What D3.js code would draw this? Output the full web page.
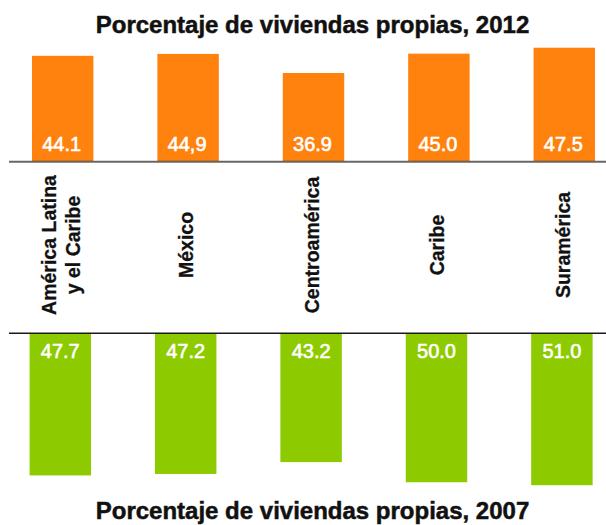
<!DOCTYPE html>
<html lang="es">
<head>
<meta charset="UTF-8">
<title>Porcentaje de viviendas propias</title>
<script src="https://cdn.jsdelivr.net/npm/d3@7"></script>
<style>
  body { margin: 0; background: #fff; }
  text { font-family: "Liberation Sans", Arial, Helvetica, sans-serif; }
</style>
</head>
<body>
<svg width="606" height="525"></svg>
<script>
// data
const regions = ["América Latina|y el Caribe", "México", "Centroamérica", "Caribe", "Suramérica"];
const values2012 = [44.1, 44.9, 36.9, 45.0, 47.5];
const labels2012 = ["44.1", "44,9", "36.9", "45.0", "47.5"];
const values2007 = [47.7, 47.2, 43.2, 50.0, 51.0];
const labels2007 = ["47.7", "47.2", "43.2", "50.0", "51.0"];

const svg = d3.select("svg");

const x = d3.scaleBand()
    .domain(regions)
    .range([0, 627])
    .paddingInner(0.51)
    .paddingOuter(0.255);

const topBase = 161;
const botBase = 334;
const yTop = d3.scaleLinear().domain([0, 100]).range([topBase, topBase - 238.5]);
const yBot = d3.scaleLinear().domain([0, 100]).range([botBase, botBase + 296.5]);

// titles
[["Porcentaje de viviendas propias, 2012", 33], ["Porcentaje de viviendas propias, 2007", 518.5]]
  .forEach(([txt, yy]) => {
    svg.append("text")
        .attr("x", 312.5).attr("y", yy)
        .attr("text-anchor", "middle")
        .attr("font-size", 24).attr("font-weight", "bold")
        .attr("fill", "#111").attr("stroke", "#111").attr("stroke-width", 0.5)
        .text(txt);
  });

// 2012 bars (up)
const gTop = svg.append("g");
gTop.selectAll("rect")
    .data(values2012)
    .join("rect")
    .attr("x", (d, i) => x(regions[i]))
    .attr("y", d => yTop(d))
    .attr("width", x.bandwidth())
    .attr("height", d => topBase - yTop(d))
    .attr("fill", "#ff820f");
gTop.selectAll("text")
    .data(labels2012)
    .join("text")
    .attr("x", (d, i) => x(regions[i]) + x.bandwidth() / 2 - 1)
    .attr("y", 150.7)
    .attr("text-anchor", "middle")
    .attr("font-size", 20)
    .attr("fill", "#fff").attr("stroke", "#fff").attr("stroke-width", 0.6)
    .text(d => d);

svg.append("line")
    .attr("x1", 9).attr("x2", 606)
    .attr("y1", 161.7).attr("y2", 161.7)
    .attr("stroke", "rgba(0,0,0,0.6)")
    .attr("stroke-width", 2);

// 2007 bars (down)
const gBot = svg.append("g").attr("transform", "translate(-2.4,0)");
gBot.selectAll("rect")
    .data(values2007)
    .join("rect")
    .attr("x", (d, i) => x(regions[i]))
    .attr("y", botBase)
    .attr("width", x.bandwidth())
    .attr("height", d => yBot(d) - botBase)
    .attr("fill", "#8dca00");
gBot.selectAll("text")
    .data(labels2007)
    .join("text")
    .attr("x", (d, i) => x(regions[i]) + x.bandwidth() / 2)
    .attr("y", 358)
    .attr("text-anchor", "middle")
    .attr("font-size", 20)
    .attr("fill", "#fff").attr("stroke", "#fff").attr("stroke-width", 0.6)
    .text(d => d);

svg.append("line")
    .attr("x1", 9).attr("x2", 606)
    .attr("y1", 333.3).attr("y2", 333.3)
    .attr("stroke", "#1a1a1a")
    .attr("stroke-width", 1.5);

// category labels, rotated
const cats = svg.append("g");
regions.forEach(r => {
  const lines = r.split("|");
  const cx = x(r) + x.bandwidth() / 2 - 1.2;
  const t = cats.append("text")
      .attr("transform", `translate(${cx},245) rotate(-90)`)
      .attr("text-anchor", "middle")
      .attr("font-size", 19.5)
      .attr("font-weight", "bold")
      .attr("fill", "#111").attr("stroke", "#111").attr("stroke-width", 0.3);
  if (lines.length === 1) {
    t.append("tspan").attr("x", 0).attr("y", 6.5).text(lines[0]);
  } else {
    t.append("tspan").attr("x", 0).attr("y", -5.5).text(lines[0]);
    t.append("tspan").attr("x", 0).attr("y", 18.5).text(lines[1]);
  }
});
</script>
</body>
</html>
